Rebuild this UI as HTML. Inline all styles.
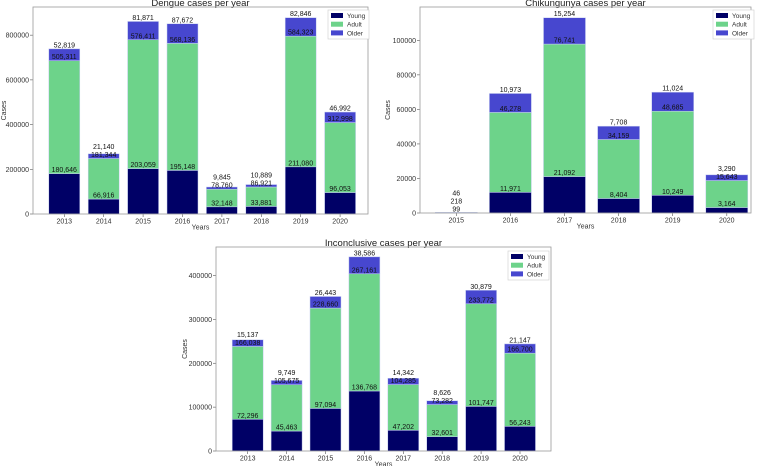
<!DOCTYPE html>
<html><head><meta charset="utf-8"><style>
html,body{margin:0;padding:0;background:#fff;}
svg{display:block;font-family:"Liberation Sans","DejaVu Sans",sans-serif;}
</style></head>
<body>
<svg id="fig" width="758" height="466" viewBox="0 0 758 466"></svg>
<script>
// Dengue
const dengueYears = ['2013','2014','2015','2016','2017','2018','2019','2020'];
const dengueYoung = [180646,66916,203059,195148,32148,33881,211080,96053];
const dengueAdult = [505311,181344,576411,568136,78760,86921,584323,312998];
const dengueOlder = [52819,21140,81871,87672,9845,10889,82846,46992];
const dengueTicks = [0,200000,400000,600000,800000];
// Chikungunya
const chikYears = ['2015','2016','2017','2018','2019','2020'];
const chikYoung = [99,11971,21092,8404,10249,3164];
const chikAdult = [218,46278,76741,34159,48685,15643];
const chikOlder = [46,10973,15254,7708,11024,3290];
const chikTicks = [0,20000,40000,60000,80000,100000];
// Inconclusive
const incYears = ['2013','2014','2015','2016','2017','2018','2019','2020'];
const incYoung = [72296,45463,97094,136768,47202,32601,101747,56243];
const incAdult = [166038,105675,228660,267161,104285,73282,233772,166700];
const incOlder = [15137,9749,26443,38586,14342,8626,30879,21147];
const incTicks = [0,100000,200000,300000,400000];

const NS='http://www.w3.org/2000/svg';
const svg=document.getElementById('fig');
const COL={young:'#000066',adult:'#6dd38a',older:'#4747cf'};
function mk(tag,attrs,parent){const e=document.createElementNS(NS,tag);for(const k in attrs)e.setAttribute(k,attrs[k]);(parent||svg).appendChild(e);return e;}
function fmt(v){return v.toLocaleString('en-US');}

function chart(cfg){
  const g=mk('g',{});
  
  
  const {L,R,T,B,ymax,x0,dx,bw}=cfg;
  const y=v=>B-(v/ymax)*(B-T);
  const x=i=>x0+i*dx;
  const t=mk('text',{x:(L+R)/2,y:T-1,'font-size':9.5,'text-anchor':'middle',fill:'#222'},g);
  t.textContent=cfg.title;
  
  
  cfg.ticks.forEach(v=>{
    mk('line',{x1:L-3,x2:L,y1:y(v),y2:y(v),stroke:'#555','stroke-width':0.6},g);
    const tt=mk('text',{x:L-4,y:y(v)+2.5,'font-size':7,'text-anchor':'end',fill:'#333'},g);
    tt.textContent=v;
    
    
  });
  const series=[['young',cfg.young],['adult',cfg.adult],['older',cfg.older]];
  const labels=[];
  cfg.years.forEach((yr,i)=>{
    let base=0, lastY=Infinity;
    series.forEach(([k,arr])=>{
      const v=arr[i];
      const r=mk('rect',{x:x(i)-bw/2,y:y(base+v),width:bw,height:y(base)-y(base+v),fill:COL[k],stroke:'#c8d0f0','stroke-width':0.5},g);
      
      
      base+=v;
      let ly=Math.min(y(base)-1.5, lastY-8);
      lastY=ly;
      labels.push([x(i),ly,fmt(v)]);
    });
    mk('line',{x1:x(i),x2:x(i),y1:B,y2:B+3,stroke:'#555','stroke-width':0.6},g);
    const xt=mk('text',{x:x(i),y:B+9.5,'font-size':7,'text-anchor':'middle',fill:'#333'},g);
    xt.textContent=yr;
    
    
  });
  labels.forEach(([lx,ly,s])=>{
    const lt=mk('text',{x:lx,y:ly,'font-size':7,'text-anchor':'middle',fill:'#111'},g);
    lt.textContent=s;
    
    
  });
  mk('rect',{x:L,y:T,width:R-L,height:B-T,fill:'none',stroke:'#999','stroke-width':0.8},g);
  const xl=mk('text',{x:(L+R)/2,y:B+15.5,'font-size':7,'text-anchor':'middle',fill:'#333'},g);
  xl.textContent='Years';
  
  
  const yl=mk('text',{x:0,y:0,'font-size':7,'text-anchor':'middle',fill:'#333',transform:`translate(${cfg.ylx},${(T+B)/2}) rotate(-90)`},g);
  yl.textContent='Cases';
  
  
  const lg=mk('g',{},g);
  
  
  const lx=cfg.lx, ly=cfg.ly;
  mk('rect',{x:lx,y:ly,width:41,height:29,fill:'#fff',stroke:'#ccc','stroke-width':0.6},lg);
  [['Young','young'],['Adult','adult'],['Older','older']].forEach(([n,k],j)=>{
    const sw=mk('rect',{x:lx+3,y:ly+3+j*8.7,width:12,height:5,fill:COL[k]},lg);
    
    
    const lt=mk('text',{x:lx+19,y:ly+8+j*8.7,'font-size':6.5,fill:'#333'},lg);
    lt.textContent=n;
    
    
  });
}
chart({name:'dengue-chart',title:'Dengue cases per year',L:33,R:368,T:7,B:214,ymax:926000,x0:64.3,dx:39.4,bw:31,
  years:dengueYears,young:dengueYoung,adult:dengueAdult,older:dengueOlder,ticks:dengueTicks,ylx:6,lx:328,ly:10});
chart({name:'chikungunya-chart',title:'Chikungunya cases per year',L:420,R:751,T:7,B:213,ymax:119300,x0:456.3,dx:54.1,bw:42,
  years:chikYears,young:chikYoung,adult:chikAdult,older:chikOlder,ticks:chikTicks,ylx:390,lx:713,ly:10});
chart({name:'inconclusive-chart',title:'Inconclusive cases per year',L:216,R:551,T:247,B:451,ymax:465000,x0:247.7,dx:38.9,bw:31,
  years:incYears,young:incYoung,adult:incAdult,older:incOlder,ticks:incTicks,ylx:187,lx:508,ly:251});
</script>
</body></html>
